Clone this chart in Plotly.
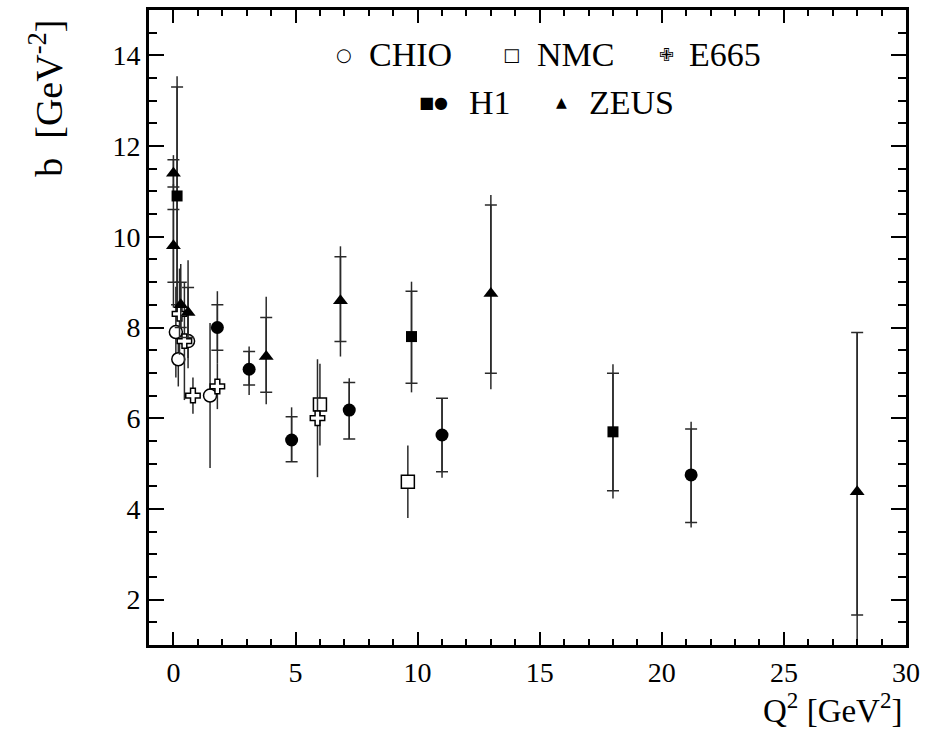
import plotly.graph_objects as go

# ---------------- data ----------------
# CHIO: open circles (total errors only)
chio_q2 = [0.1, 0.2, 0.6, 1.5]
chio_b = [7.9, 7.3, 7.7, 6.5]
chio_err_up = [1.0, 0.6, 0.6, 1.6]
chio_err_dn = [1.0, 0.6, 0.6, 1.6]

# NMC: open squares
nmc_q2 = [6.0, 9.6]
nmc_b = [6.3, 4.6]
nmc_err_up = [0.9, 0.8]
nmc_err_dn = [0.9, 0.8]

# E665: open crosses
e665_q2 = [0.25, 0.45, 0.8, 1.8, 5.9]
e665_b = [8.3, 7.7, 6.5, 6.7, 6.0]
e665_err_up = [1.0, 1.3, 0.4, 0.5, 1.3]
e665_err_dn = [0.9, 1.3, 0.4, 0.5, 1.3]

# H1 squares: stat and total errors
h1s_q2 = [0.15, 9.75, 18.0]
h1s_b = [10.9, 7.8, 5.7]
h1s_stat_up = [2.4, 1.0, 1.29]
h1s_stat_dn = [2.4, 1.03, 1.3]
h1s_tot_up = [2.64, 1.21, 1.49]
h1s_tot_dn = [2.64, 1.23, 1.47]

# H1 circles
h1c_q2 = [1.8, 3.1, 4.84, 7.2, 11.0, 21.2]
h1c_b = [8.0, 7.08, 5.52, 6.18, 5.63, 4.75]
h1c_stat_up = [0.5, 0.39, 0.51, 0.61, 0.81, 1.01]
h1c_stat_dn = [0.5, 0.35, 0.48, 0.64, 0.81, 1.05]
h1c_tot_up = [0.8, 0.5, 0.72, 0.7, 0.81, 1.17]
h1c_tot_dn = [0.8, 0.57, 0.48, 0.64, 0.94, 1.16]

# ZEUS triangles
zeus_q2 = [0.0, 0.0, 0.3, 0.6, 3.8, 6.84, 13.0, 28.0]
zeus_b = [11.4, 9.8, 8.5, 8.33, 7.36, 8.59, 8.75, 4.38]
zeus_stat_up = [0.3, 0.8, 0.5, 0.55, 0.86, 0.97, 1.95, 3.51]
zeus_stat_dn = [0.3, 0.8, 0.5, 0.55, 0.79, 0.9, 1.76, 2.72]
zeus_tot_up = [0.4, 1.36, 0.9, 1.15, 1.32, 1.2, 2.17, 3.51]
zeus_tot_dn = [0.45, 1.36, 0.7, 1.0, 1.05, 1.23, 2.11, 3.6]

x_range = [-1, 30]
y_range = [1, 15]

# ---------------- styles ----------------
FONT = "Liberation Serif, Times New Roman, Times, serif"
SYM_FONT = "DejaVu Sans, sans-serif"
ERR_COLOR = "#2a2a2a"
ERR_W = 1.5
CAP = 6

fig = go.Figure()


def total_bars(x, y, up, dn):
    fig.add_trace(go.Scatter(
        x=x, y=y, mode="markers",
        marker=dict(size=1, opacity=0),
        error_y=dict(type="data", symmetric=False, array=up, arrayminus=dn,
                     color=ERR_COLOR, thickness=ERR_W, width=0),
        showlegend=False, hoverinfo="skip"))


def stat_points(x, y, up, dn, marker):
    fig.add_trace(go.Scatter(
        x=x, y=y, mode="markers", marker=marker,
        error_y=dict(type="data", symmetric=False, array=up, arrayminus=dn,
                     color=ERR_COLOR, thickness=ERR_W, width=CAP),
        showlegend=False))


def plain_points(x, y, up, dn, marker):
    fig.add_trace(go.Scatter(
        x=x, y=y, mode="markers", marker=marker,
        error_y=dict(type="data", symmetric=False, array=up, arrayminus=dn,
                     color=ERR_COLOR, thickness=ERR_W, width=0),
        showlegend=False))


# total error bars first
total_bars(h1s_q2, h1s_b, h1s_tot_up, h1s_tot_dn)
total_bars(h1c_q2, h1c_b, h1c_tot_up, h1c_tot_dn)
total_bars(zeus_q2, zeus_b, zeus_tot_up, zeus_tot_dn)

open_line = dict(color="black", width=1.5)
plain_points(chio_q2, chio_b, chio_err_up, chio_err_dn,
             dict(symbol="circle", size=13, color="white", line=open_line))
plain_points(nmc_q2, nmc_b, nmc_err_up, nmc_err_dn,
             dict(symbol="square", size=13, color="white", line=open_line))
plain_points(e665_q2, e665_b, e665_err_up, e665_err_dn,
             dict(symbol="cross", size=12, color="white", line=open_line))

stat_points(h1s_q2, h1s_b, h1s_stat_up, h1s_stat_dn,
            dict(symbol="square", size=11, color="black"))
stat_points(h1c_q2, h1c_b, h1c_stat_up, h1c_stat_dn,
            dict(symbol="circle", size=13, color="black"))
stat_points(zeus_q2, zeus_b, zeus_stat_up, zeus_stat_dn,
            dict(symbol="triangle-up", size=13, color="black"))

# ---------------- legend as text ----------------
def px_to_paper(px, py):
    return (px - 149) / 759.0, (645.7 - py) / 638.7

legend_items = [
    ("\u25CB", 345, 52, 18, "center", SYM_FONT),
    ("CHIO", 368, 52, 34, "left", FONT),
    ("\u25A1", 512, 52, 18, "center", SYM_FONT),
    ("NMC", 536, 52, 34, "left", FONT),
    ("\u2719", 668, 52, 18, "center", SYM_FONT),
    ("E665", 688, 52, 34, "left", FONT),
    ("\u25A0\u25CF", 434, 100, 16, "center", SYM_FONT),
    ("H1", 468, 100, 34, "left", FONT),
    ("\u25B2", 563, 100, 14, "center", SYM_FONT),
    ("ZEUS", 588, 100, 34, "left", FONT),
]
for txt, px, py, fs, anchor, fam in legend_items:
    ax, ay = px_to_paper(px, py)
    fig.add_annotation(x=ax, y=ay, xref="paper", yref="paper", text=txt,
                       showarrow=False, xanchor=anchor, yanchor="middle",
                       font=dict(family=fam, size=fs, color="black"))

# axis titles
tx, ty = px_to_paper(46, 96)
fig.add_annotation(x=tx, y=ty, xref="paper", yref="paper",
                   text="b&nbsp;&nbsp;[GeV<sup>-2</sup>]", textangle=-90,
                   showarrow=False, xanchor="center", yanchor="middle",
                   font=dict(family=FONT, size=38, color="black"))
tx, ty = px_to_paper(906, 731)
fig.add_annotation(x=tx, y=ty, xref="paper", yref="paper",
                   text="Q<sup>2</sup> [GeV<sup>2</sup>]", showarrow=False,
                   xanchor="right", yanchor="bottom", borderpad=0,
                   font=dict(family=FONT, size=33, color="black"))

axis_common = dict(
    showline=True, linewidth=3, linecolor="black", mirror="allticks",
    ticks="inside", tickcolor="black", tickwidth=1.5,
    showgrid=False, zeroline=False,
    tickfont=dict(family=FONT, size=28, color="black"),
)
fig.update_xaxes(range=x_range, dtick=5, tick0=0, ticklen=13,
                 minor=dict(dtick=1, ticks="inside", ticklen=6,
                            tickcolor="black", tickwidth=1.5, showgrid=False),
                 **axis_common)
fig.update_yaxes(range=y_range, dtick=2, tick0=0, ticklen=15,
                 minor=dict(dtick=0.5, ticks="inside", ticklen=8,
                            tickcolor="black", tickwidth=1.5, showgrid=False),
                 **axis_common)

fig.update_layout(
    width=927, height=730,
    margin=dict(l=149, r=19, t=7, b=85),
    plot_bgcolor="white", paper_bgcolor="white",
    showlegend=False,
)

fig.write_html("out.html")
